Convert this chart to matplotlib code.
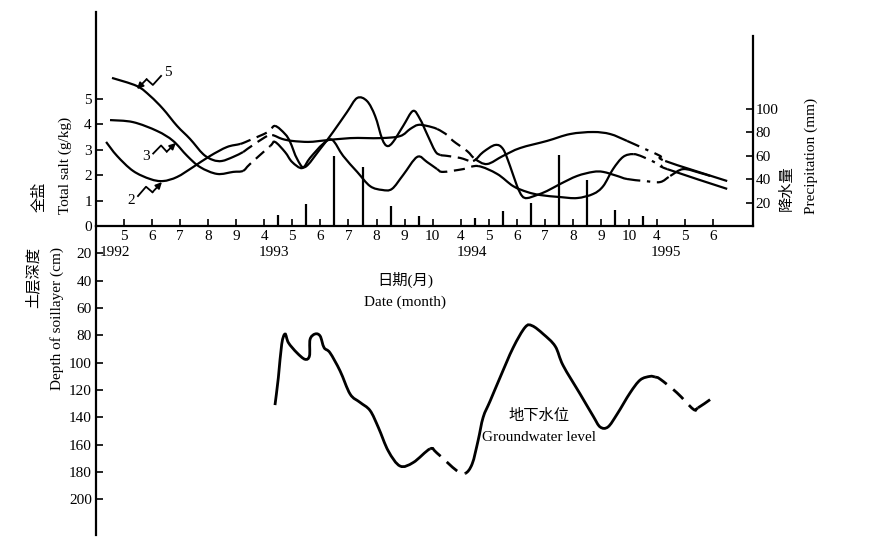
import numpy as np
import matplotlib.pyplot as plt
from matplotlib.path import Path
from matplotlib.patches import PathPatch

plt.rcParams['font.family'] = ['Liberation Serif', 'Noto Sans CJK SC']
plt.rcParams['font.size'] = 11

# month axis: index 0 = May 1992, winter months are skipped
month_labels = ['5', '6', '7', '8', '9',
                '4', '5', '6', '7', '8', '9', '10',
                '4', '5', '6', '7', '8', '9', '10',
                '4', '5', '6']
years = ['1992', '1993', '1994', '1995']
year_pos = [-0.32, 5.35, 12.4, 19.3]

# winter breaks in the records (drawn dashed / dash-dot)
salt_breaks = [(4.3, 5.2), (11.3, 12.4), (18.2, 19.25)]
gw_breaks = [(11.0, 12.1), (19.0, 20.4)]

# precipitation (mm), mid-month
rain_x = [5.5, 6.5, 7.5, 8.5, 9.5, 10.5, 12.5, 13.5, 14.5, 15.5, 16.5, 17.5, 18.5]
rain_mm = [9, 19, 60, 50, 17, 8.5, 7, 13, 20, 61, 39, 14, 8.5]

# total salt (g/kg), curve "5"
x5 = [-0.43, 0.46, 0.93, 1.39, 1.89, 2.35, 2.82, 3.17, 3.49, 3.89,
      4.24, 4.39, 5.03, 5.28, 5.63, 5.99, 6.56, 6.99, 8.06, 9.13,
      9.84, 10.20, 10.48, 10.80, 11.16, 11.52, 11.73, 12.23, 12.51, 12.94,
      13.51, 14.12, 15.08, 15.90, 16.72, 17.33, 17.93, 18.57, 19.11, 19.29,
      21.50]
y5 = [5.83, 5.51, 5.12, 4.61, 3.94, 3.43, 2.83, 2.60, 2.56, 2.72,
      2.91, 3.03, 3.50, 3.58, 3.43, 3.35, 3.31, 3.35, 3.46, 3.46,
      3.54, 3.82, 3.98, 3.94, 3.82, 3.58, 3.35, 2.95, 2.64, 2.44,
      2.76, 3.07, 3.35, 3.62, 3.70, 3.62, 3.35, 3.03, 2.76, 2.56,
      1.77]

# curve "3"
x3 = [-0.50, 0.32, 1.18, 1.75, 2.25, 2.71, 3.32, 3.89, 4.24, 4.49,
      5.21, 5.38, 5.74, 5.99, 6.35, 6.63, 7.09, 7.42, 7.81, 8.31,
      8.77, 9.20, 9.55, 9.95, 10.45, 10.80, 11.16, 11.37, 12.09, 12.62,
      13.30, 13.87, 14.37, 14.83, 15.54, 16.15, 16.72, 17.08, 17.43, 17.79,
      18.15, 18.50, 19.11, 19.36, 21.50]
y3 = [4.17, 4.09, 3.74, 3.35, 2.76, 2.32, 2.05, 2.13, 2.17, 2.44,
      3.15, 3.31, 2.91, 2.52, 2.28, 2.68, 3.23, 3.39, 2.76, 2.13,
      1.57, 1.42, 1.46, 2.01, 2.72, 2.52, 2.24, 2.13, 2.24, 2.36,
      2.05, 1.57, 1.34, 1.22, 1.14, 1.10, 1.26, 1.57, 2.24, 2.72,
      2.83, 2.72, 2.40, 2.24, 1.46]

# curve "2"
x2 = [-0.64, -0.25, 0.32, 0.93, 1.39, 1.89, 2.46, 3.07, 3.67, 4.14,
      4.42, 5.13, 5.38, 5.74, 5.92, 6.17, 6.45, 6.99, 7.45, 7.95,
      8.31, 8.66, 8.95, 9.20, 9.38, 9.59, 9.95, 10.30, 10.55, 10.80,
      11.09, 11.27, 11.52, 11.98, 12.44, 12.80, 13.23, 13.51, 13.76, 14.01,
      14.19, 14.37, 14.72, 15.08, 15.54, 16.15, 16.72, 17.08, 17.58, 17.93,
      18.57, 19.11, 19.47, 19.93, 20.53, 20.89]
y2 = [3.31, 2.76, 2.17, 1.85, 1.77, 1.93, 2.32, 2.76, 3.11, 3.23,
      3.35, 3.70, 3.94, 3.62, 3.31, 2.64, 2.32, 3.03, 3.70, 4.49,
      5.04, 4.92, 4.33, 3.43, 3.15, 3.31, 3.94, 4.53, 4.21, 3.62,
      2.95, 2.80, 2.76, 2.68, 2.56, 2.91, 3.19, 3.03, 2.36, 1.57,
      1.18, 1.10, 1.22, 1.38, 1.65, 1.97, 2.13, 2.13, 1.97, 1.85,
      1.77, 1.73, 1.97, 2.24, 2.09, 1.97]

# groundwater level (cm below surface)
gw_x = [5.38, 5.50, 5.62, 5.74, 5.86, 6.16, 6.45, 6.61, 6.63, 6.81,
        6.99, 7.13, 7.34, 7.70, 8.06, 8.41, 8.77, 9.07, 9.42, 9.84,
        10.31, 10.91, 11.15, 11.86, 12.16, 12.41, 12.62, 12.80, 13.05, 13.40,
        13.87, 14.30, 14.55, 14.94, 15.37, 15.65, 16.26, 16.72, 16.97, 17.25,
        17.58, 18.04, 18.40, 18.75, 18.93, 19.11, 19.71, 20.29, 20.46, 20.89]
gw_cm = [131, 111, 86.5, 79, 85.4, 92.7, 97.5, 95, 83, 79,
         80.5, 89, 92.7, 106, 123, 129, 135, 147.6, 164.6, 175.6,
         173, 163, 166, 179, 181, 174, 157, 140, 128, 111,
         89, 74, 73, 79, 88, 102, 123, 139, 147, 147,
         137.5, 122, 112.6, 110, 110.5, 112, 122, 134, 133, 127]


def smooth_piece(ax, pts, a, b, lw, ls):
    # smooth curve through pts[a..b] (Catmull-Rom drawn as Bezier segments)
    n = len(pts)
    verts = [pts[a]]
    codes = [Path.MOVETO]
    for i in range(a, b):
        p0 = pts[max(i - 1, 0)]
        p1 = pts[i]
        p2 = pts[i + 1]
        p3 = pts[min(i + 2, n - 1)]
        verts += [p1 + (p2 - p0) / 6, p2 - (p3 - p1) / 6, p2]
        codes += [Path.CURVE4] * 3
    ax.add_patch(PathPatch(Path(verts, codes), fill=False, edgecolor='k',
                           lw=lw, ls=ls, capstyle='butt'))


def draw_seasons(ax, x, y, breaks, styles, lw):
    # solid during the observed seasons, broken line across the winters
    x = np.asarray(x, float)
    pts = np.column_stack([x, np.asarray(y, float)])
    start = 0
    for (g0, g1), ls in zip(breaks, styles):
        i0 = np.searchsorted(x, g0, side='right') - 1
        i1 = np.searchsorted(x, g1, side='left')
        smooth_piece(ax, pts, start, i0, lw, '-')
        smooth_piece(ax, pts, i0, i1, lw, ls)
        start = i1
    smooth_piece(ax, pts, start, len(x) - 1, lw, '-')


def bolt(ax, label, txt_xy, head_xy):
    # label with a small zig-zag arrow pointing at a curve
    ax.text(*txt_xy, label, ha='center', va='center', fontsize=11)
    T = ax.transData
    t = T.transform(txt_xy)
    h = T.transform(head_xy)
    d = h - t
    L = np.hypot(*d)
    u = d / L
    nrm = np.array([-u[1], u[0]])
    start = t + u * 8
    k1 = t + u * (8 + 0.42 * (L - 8)) + nrm * 4
    k2 = t + u * (8 + 0.52 * (L - 8)) - nrm * 4
    pts = T.inverted().transform(np.array([start, k1, k2]))
    ax.plot(pts[:, 0], pts[:, 1], color='k', lw=1.3)
    ax.annotate('', xy=head_xy, xytext=pts[-1],
                arrowprops=dict(arrowstyle='-|>', color='k', lw=1.3,
                                mutation_scale=9, shrinkA=0, shrinkB=0))


W, H = 875, 558
fig = plt.figure(figsize=(W / 100, H / 100), dpi=100)

x0, x1 = 96, 753      # pixel extent of the axes
y_top, y_mid, y_bot = 12, 226, 535

ax_top = fig.add_axes([x0 / W, 1 - y_mid / H, (x1 - x0) / W, (y_mid - y_top) / H])
ax_bot = fig.add_axes([x0 / W, 1 - y_bot / H, (x1 - x0) / W, (y_bot - y_mid) / H])
ax_pr = ax_top.twinx()

xlim = (-1.0, 22.42)
for ax in (ax_top, ax_bot, ax_pr):
    ax.set_xlim(*xlim)
    ax.patch.set_visible(False)

# salt axis
ax_top.set_ylim(0, (y_mid - y_top) / 25.4)
ax_top.set_yticks(range(6))
ax_top.set_xticks(range(len(month_labels)))
ax_top.set_xticklabels(month_labels)
ax_top.tick_params(direction='in', length=5, width=1.2, pad=3)
ax_top.spines[['top', 'right']].set_visible(False)
ax_top.spines[['left', 'bottom']].set_linewidth(1.6)

salt_styles = [(0, (5, 3)), (0, (5, 3)), (0, (6, 3, 1.5, 3))]
for xs, ys in ((x5, y5), (x3, y3), (x2, y2)):
    draw_seasons(ax_top, xs, ys, salt_breaks, salt_styles, 1.6)

bolt(ax_top, '5', (1.57, 6.06), (0.46, 5.39))
bolt(ax_top, '3', (0.78, 2.72), (1.85, 3.27))
bolt(ax_top, '2', (0.25, 1.02), (1.35, 1.73))

# precipitation axis
ax_pr.set_ylim(0, (y_mid - y_top) / 1.17)
ax_pr.vlines(rain_x, 0, rain_mm, color='k', lw=1.6)
ax_pr.set_yticks([20, 40, 60, 80, 100])
ax_pr.tick_params(axis='y', direction='in', length=5, width=1.2, pad=2)
ax_pr.spines[['top', 'left', 'bottom']].set_visible(False)
ax_pr.spines['right'].set_linewidth(1.6)
ax_pr.spines['right'].set_bounds(0, (y_mid - 36) / 1.17)

# year labels under the month ticks
for yr, pos in zip(years, year_pos):
    ax_top.text(pos, -(253 - y_mid) / (y_mid - y_top), yr, ha='center', va='center',
                transform=ax_top.get_xaxis_transform(), fontsize=11)

# soil depth / groundwater axis
ax_bot.set_ylim((y_bot - y_mid) / 1.367, 0)
ax_bot.set_yticks(range(20, 201, 20))
ax_bot.set_xticks([])
ax_bot.tick_params(axis='y', direction='in', length=5, width=1.2, pad=3)
ax_bot.spines[['top', 'right', 'bottom']].set_visible(False)
ax_bot.spines['left'].set_linewidth(1.6)
draw_seasons(ax_bot, gw_x, gw_cm, gw_breaks, [(0, (5, 3)), (0, (5, 3))], 2.0)
ax_bot.text(14.8, 139, '地下水位', ha='center', va='center')
ax_bot.text(14.8, 155, 'Groundwater level', ha='center', va='center')


def ftext(px, py, s, **kw):
    fig.text(px / W, 1 - py / H, s, ha='center', va='center', **kw)


ftext(40, 197, '全盐', rotation=90)
ftext(65, 165, 'Total salt (g/kg)', rotation=90)
ftext(33, 277, '土层深度', rotation=90)
ftext(57, 319, 'Depth of soillayer (cm)', rotation=90)
ftext(787, 188, '降水量', rotation=90)
ftext(811, 156, 'Precipitation (mm)', rotation=90)
ftext(405, 280, '日期(月)')
ftext(405, 302, 'Date (month)')

fig.savefig('out.png', dpi=100)
